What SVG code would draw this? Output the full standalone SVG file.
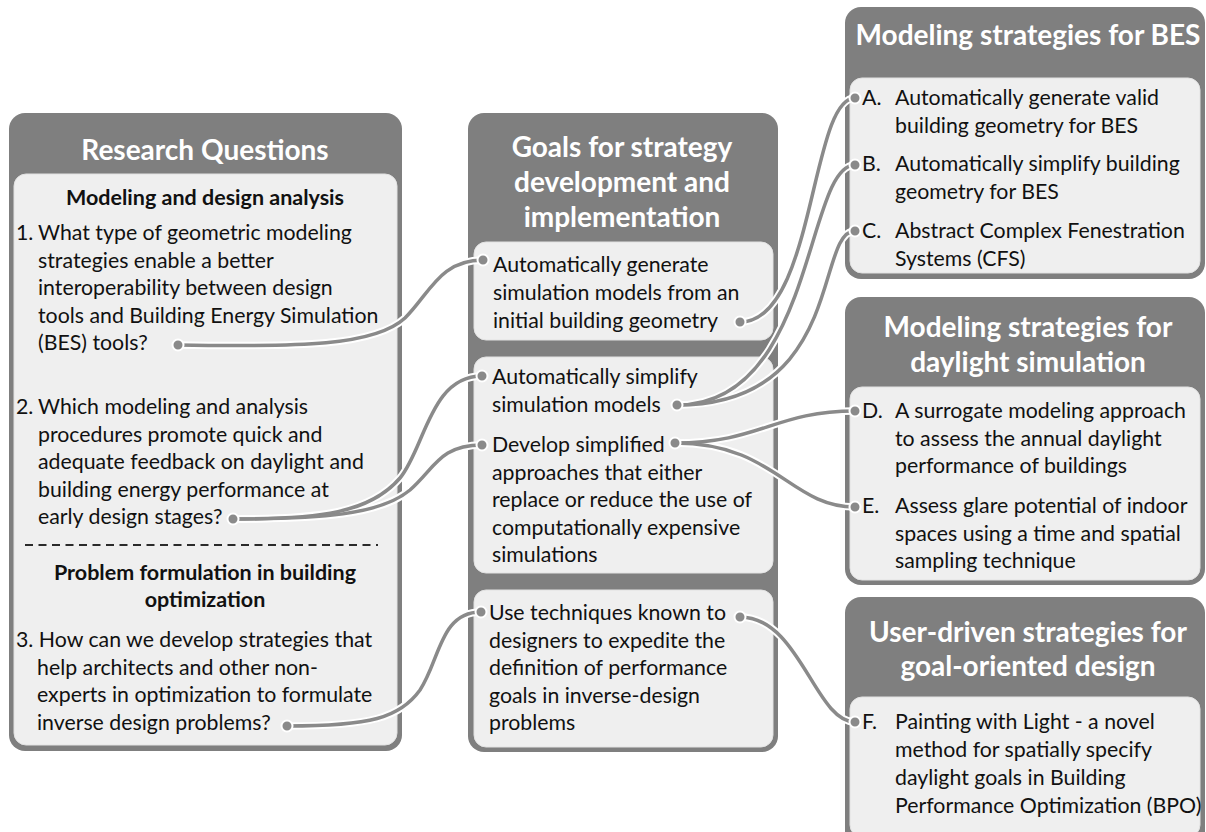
<svg xmlns="http://www.w3.org/2000/svg" width="1206" height="832" viewBox="0 0 1206 832">
  <style>
    .panel { fill: #7f7f7f; }
    .inner { fill: #efefef; stroke: #e2e2e2; stroke-width: 1; }
    .head { font-family: Lato, "Liberation Sans", sans-serif; font-weight: bold; font-size: 28px; fill: #ffffff; text-anchor: middle; }
    .sub { font-family: Lato, "Liberation Sans", sans-serif; font-weight: bold; font-size: 21.5px; fill: #111111; text-anchor: middle; }
    .body { font-family: Lato, "Liberation Sans", sans-serif; font-size: 21.3px; fill: #111111; }
    .halo { fill: none; stroke: #ffffff; stroke-width: 7.5; stroke-linecap: round; }
    .wire { fill: none; stroke: #8a8a8a; stroke-width: 3.5; stroke-linecap: round; }
    .dot { fill: #8a8a8a; stroke: #ffffff; stroke-width: 2; }
    .dash { stroke: #2a2a2a; stroke-width: 2; stroke-dasharray: 8 5.5; }
  </style>

  <!-- Left column: research questions -->
  <g id="research-questions">
    <rect class="panel" x="9" y="113" width="393" height="638" rx="16"/>
    <text class="head" x="205" y="160">Research Questions</text>
    <rect class="inner" x="14" y="174" width="383" height="571" rx="12"/>
    <text class="sub" x="205" y="205">Modeling and design analysis</text>
    <text class="body"><tspan x="16" y="240">1.</tspan><tspan x="38" y="240">What type of geometric modeling</tspan><tspan x="38" y="267.5">strategies enable a better</tspan><tspan x="38" y="295">interoperability between design</tspan><tspan x="38" y="322.5">tools and Building Energy Simulation</tspan><tspan x="38" y="350">(BES) tools?</tspan></text>
    <text class="body"><tspan x="16" y="414">2.</tspan><tspan x="38" y="414">Which modeling and analysis</tspan><tspan x="38" y="441.5">procedures promote quick and</tspan><tspan x="38" y="469">adequate feedback on daylight and</tspan><tspan x="38" y="496.5">building energy performance at</tspan><tspan x="38" y="524">early design stages?</tspan></text>
    <line class="dash" x1="25" y1="545" x2="378" y2="545"/>
    <text class="sub"><tspan x="205" y="580">Problem formulation in building</tspan><tspan x="205" y="607">optimization</tspan></text>
    <text class="body"><tspan x="16" y="647">3. How can we develop strategies that</tspan><tspan x="37" y="674.5">help architects and other non-</tspan><tspan x="37" y="702">experts in optimization to formulate</tspan><tspan x="37" y="729.5">inverse design problems?</tspan></text>
  </g>

  <!-- Middle column: goals -->
  <g id="goals">
    <rect class="panel" x="468" y="113" width="310" height="639" rx="16"/>
    <text class="head"><tspan x="622" y="157">Goals for strategy</tspan><tspan x="622" y="192">development and</tspan><tspan x="622" y="227">implementation</tspan></text>
  </g>
  <g id="goal-generate">
    <rect class="inner" x="474" y="242" width="299" height="98" rx="12"/>
    <text class="body"><tspan x="493" y="272">Automatically generate</tspan><tspan x="493" y="300">simulation models from an</tspan><tspan x="493" y="328">initial building geometry</tspan></text>
  </g>
  <g id="goal-simplify">
    <rect class="inner" x="474" y="357" width="299" height="216" rx="12"/>
    <text class="body"><tspan x="492" y="384">Automatically simplify</tspan><tspan x="492" y="411.5">simulation models</tspan></text>
    <text class="body"><tspan x="492" y="452">Develop simplified</tspan><tspan x="492" y="479.5">approaches that either</tspan><tspan x="492" y="507">replace or reduce the use of</tspan><tspan x="492" y="534.5">computationally expensive</tspan><tspan x="492" y="562">simulations</tspan></text>
  </g>
  <g id="goal-techniques">
    <rect class="inner" x="474" y="590" width="299" height="157" rx="12"/>
    <text class="body"><tspan x="489" y="620">Use techniques known to</tspan><tspan x="489" y="647.5">designers to expedite the</tspan><tspan x="489" y="675">definition of performance</tspan><tspan x="489" y="702.5">goals in inverse-design</tspan><tspan x="489" y="730">problems</tspan></text>
  </g>

  <!-- Right column: strategies -->
  <g id="bes-strategies">
    <rect class="panel" x="845" y="7" width="360" height="272" rx="16"/>
    <text class="head" x="1028" y="45">Modeling strategies for BES</text>
    <rect class="inner" x="850" y="78" width="350" height="195" rx="12"/>
    <text class="body"><tspan x="862" y="105">A.</tspan><tspan x="895" y="105">Automatically generate valid</tspan><tspan x="895" y="132.5">building geometry for BES</tspan></text>
    <text class="body"><tspan x="862" y="171">B.</tspan><tspan x="895" y="171">Automatically simplify building</tspan><tspan x="895" y="198.5">geometry for BES</tspan></text>
    <text class="body"><tspan x="862" y="238">C.</tspan><tspan x="895" y="238">Abstract Complex Fenestration</tspan><tspan x="895" y="265.5">Systems (CFS)</tspan></text>
  </g>
  <g id="daylight-strategies">
    <rect class="panel" x="845" y="297" width="360" height="288" rx="16"/>
    <text class="head"><tspan x="1028" y="337">Modeling strategies for</tspan><tspan x="1028" y="372">daylight simulation</tspan></text>
    <rect class="inner" x="850" y="387" width="350" height="193" rx="12"/>
    <text class="body"><tspan x="862" y="418">D.</tspan><tspan x="895" y="418">A surrogate modeling approach</tspan><tspan x="895" y="445.5">to assess the annual daylight</tspan><tspan x="895" y="473">performance of buildings</tspan></text>
    <text class="body"><tspan x="862" y="513">E.</tspan><tspan x="895" y="513">Assess glare potential of indoor</tspan><tspan x="895" y="540.5">spaces using a time and spatial</tspan><tspan x="895" y="568">sampling technique</tspan></text>
  </g>
  <g id="user-strategies">
    <rect class="panel" x="845" y="597" width="360" height="250" rx="16"/>
    <text class="head"><tspan x="1028" y="642">User-driven strategies for</tspan><tspan x="1028" y="676">goal-oriented design</tspan></text>
    <rect class="inner" x="850" y="697" width="350" height="140" rx="12"/>
    <text class="body"><tspan x="862" y="729">F.</tspan><tspan x="895" y="729">Painting with Light - a novel</tspan><tspan x="895" y="757">method for spatially specify</tspan><tspan x="895" y="785">daylight goals in Building</tspan><tspan x="895" y="813">Performance Optimization (BPO)</tspan></text>
  </g>

  <!-- Connectors: white halo underneath, grey wire on top, dots at both ends -->
  <defs>
    <path id="c-q1" d="M178,345 C300,347 375,346 405,318 C430,293 440,260 483,260"/>
    <path id="c-q2a" d="M233,519 C320,519 370,513 400,478 C425,448 430,376 482,376"/>
    <path id="c-q2b" d="M233,519 C320,519 380,515 410,490 C435,468 440,445 482,445"/>
    <path id="c-q3" d="M287,726 C370,726 400,718 420,690 C440,660 440,612 481,612"/>
    <path id="c-a" d="M740,322 C815,322 810,98 855,98"/>
    <path id="c-b" d="M677,405 C815,405 805,165 855,165"/>
    <path id="c-c" d="M677,405 C845,405 815,231 855,231"/>
    <path id="c-d" d="M675,443 C760,443 775,411 855,411"/>
    <path id="c-e" d="M675,443 C775,443 790,507 855,507"/>
    <path id="c-f" d="M740,617 C800,617 815,722 855,722"/>
  </defs>
  <g id="connectors">
    <g class="halo">
      <use href="#c-q1"/><use href="#c-q2a"/><use href="#c-q2b"/><use href="#c-q3"/>
      <use href="#c-a"/><use href="#c-b"/><use href="#c-c"/><use href="#c-d"/><use href="#c-e"/><use href="#c-f"/>
    </g>
    <g class="wire">
      <use href="#c-q1"/><use href="#c-q2a"/><use href="#c-q2b"/><use href="#c-q3"/>
      <use href="#c-a"/><use href="#c-b"/><use href="#c-c"/><use href="#c-d"/><use href="#c-e"/><use href="#c-f"/>
    </g>
    <g>
      <circle class="dot" cx="178" cy="345" r="5.5"/>
      <circle class="dot" cx="233" cy="519" r="5.5"/>
      <circle class="dot" cx="287" cy="726" r="5.5"/>
      <circle class="dot" cx="483" cy="260" r="5.5"/>
      <circle class="dot" cx="482" cy="376" r="5.5"/>
      <circle class="dot" cx="482" cy="445" r="5.5"/>
      <circle class="dot" cx="481" cy="612" r="5.5"/>
      <circle class="dot" cx="740" cy="322" r="5.5"/>
      <circle class="dot" cx="677" cy="405" r="5.5"/>
      <circle class="dot" cx="675" cy="443" r="5.5"/>
      <circle class="dot" cx="740" cy="617" r="5.5"/>
      <circle class="dot" cx="855" cy="98" r="5.5"/>
      <circle class="dot" cx="855" cy="165" r="5.5"/>
      <circle class="dot" cx="855" cy="231" r="5.5"/>
      <circle class="dot" cx="855" cy="411" r="5.5"/>
      <circle class="dot" cx="855" cy="507" r="5.5"/>
      <circle class="dot" cx="855" cy="722" r="5.5"/>
    </g>
  </g>
</svg>
